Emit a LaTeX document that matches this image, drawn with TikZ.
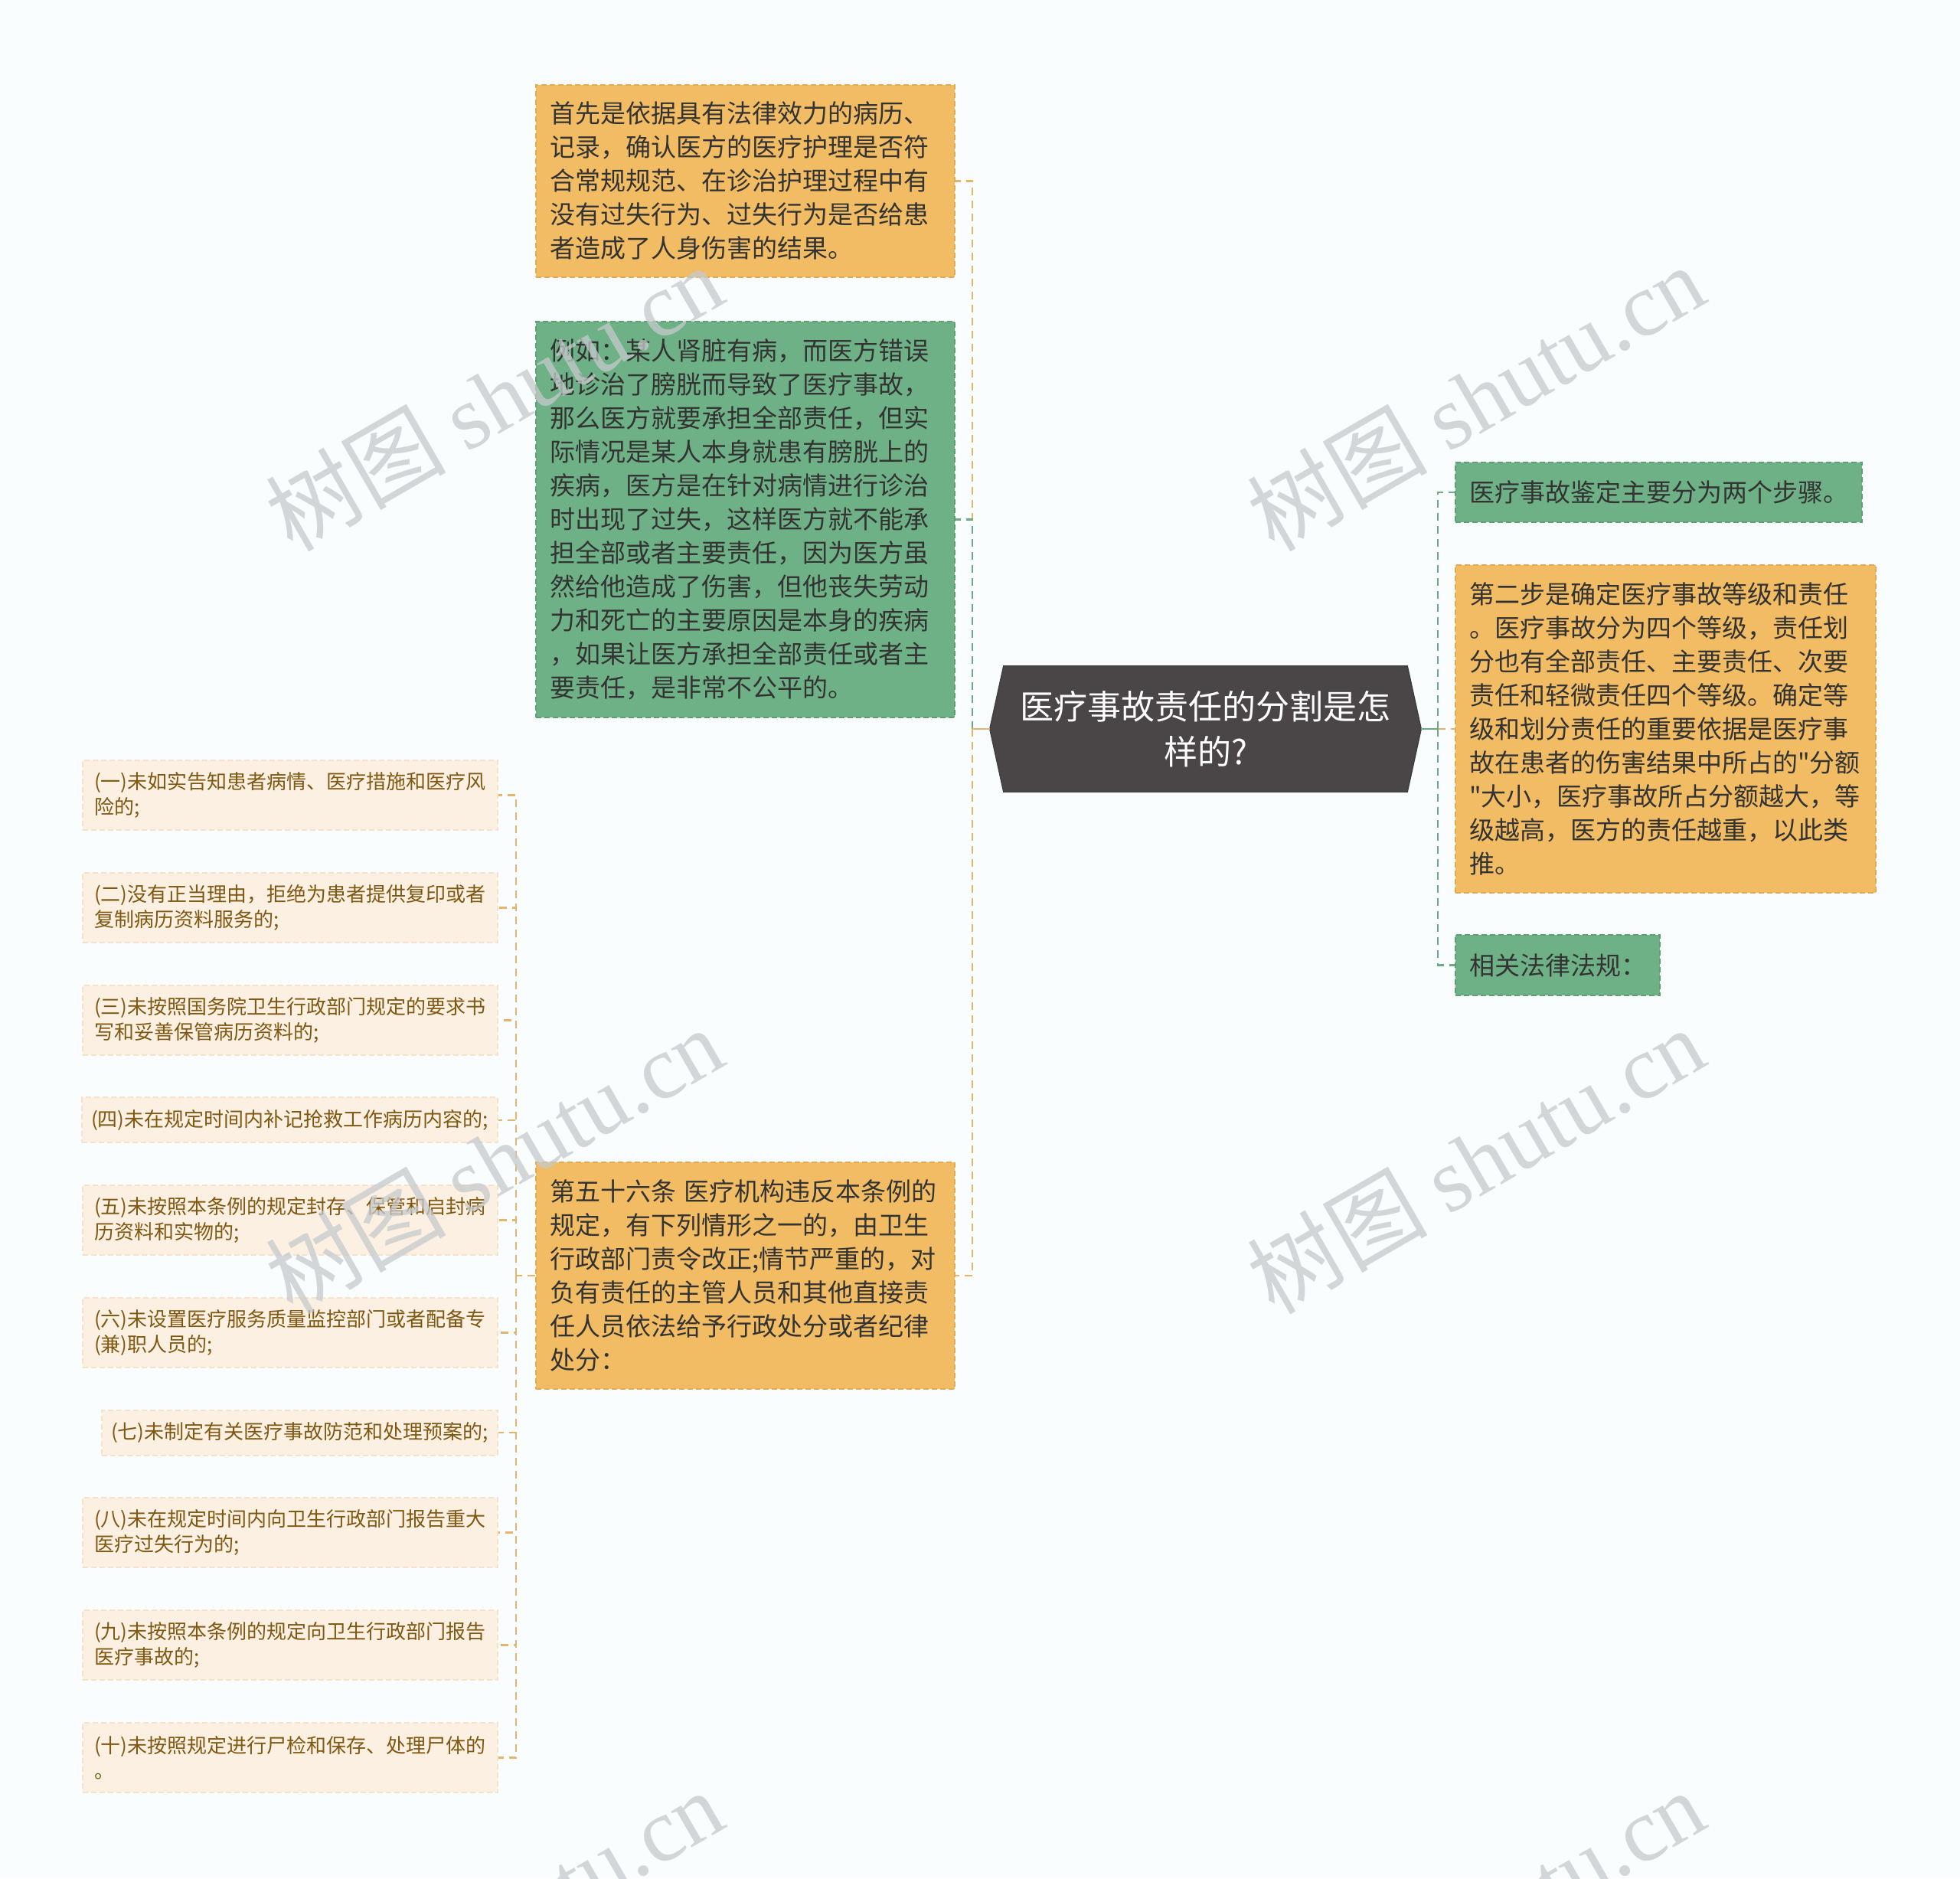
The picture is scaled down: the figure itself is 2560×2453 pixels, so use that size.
\documentclass[tikz,border=0pt]{standalone}
\usepackage{fontspec}
\setmainfont{Noto Sans CJK SC}
\newfontfamily\plaincjk{Noto Sans CJK SC}
\newfontfamily\wmserif{Liberation Serif}
\usetikzlibrary{calc}
\definecolor{bgc}{HTML}{FAFDFD}
\definecolor{orfill}{HTML}{F1BC63}
\definecolor{ordraw}{HTML}{E3AA50}
\definecolor{grfill}{HTML}{6FB186}
\definecolor{grdraw}{HTML}{5E9F74}
\definecolor{lffill}{HTML}{FCF0E2}
\definecolor{lfdraw}{HTML}{F5E2CB}
\definecolor{lftext}{HTML}{7F5812}
\definecolor{maintext}{HTML}{333333}
\definecolor{cfill}{HTML}{4A4546}
\definecolor{orline}{HTML}{E6B46C}
\definecolor{grline}{HTML}{6DA784}
\definecolor{wm}{HTML}{C6CACC}
\pgfdeclarelayer{bg}
\pgfsetlayers{bg,main}
\tikzset{
 box/.style={rectangle, inner xsep=18pt, inner ysep=0pt, align=left, text=maintext, font=\fontsize{33}{44}\selectfont, line width=2pt, dash pattern=on 7pt off 4pt, anchor=west},
 obox/.style={box, fill=orfill, draw=ordraw},
 gbox/.style={box, fill=grfill, draw=grdraw},
 leaf/.style={rectangle, inner xsep=15pt, inner ysep=0pt, align=left, text=lftext, font=\fontsize{26}{33}\selectfont, fill=lffill, draw=lfdraw, line width=2pt, dash pattern=on 7pt off 4pt, anchor=east},
 leaftwo/.style={leaf, text width=512pt, minimum height=91pt},
 leafone/.style={leaf, inner xsep=12pt, minimum height=59pt},
 olink/.style={draw=orline, line width=2.5pt, dash pattern=on 10pt off 7pt},
 glink/.style={draw=grline, line width=2.5pt, dash pattern=on 10pt off 7pt},
 ostub/.style={draw=orline, line width=2.5pt},
 gstub/.style={draw=grline, line width=2.5pt},
 wmark/.style={text=wm, opacity=0.75, rotate=30, font=\fontsize{118}{118}\selectfont},
}
\begin{document}
\begin{tikzpicture}[x=1pt,y=-1pt]
\begin{pgfonlayer}{bg}
\fill[bgc] (0,0) rectangle (2560,2453);
\end{pgfonlayer}
\useasboundingbox (0,0) rectangle (2560,2453);

% central topic
\node[minimum width=563pt, minimum height=164pt, inner sep=0pt, align=center, text=white, font=\fontsize{44}{59}\selectfont] (c) at (1574.5,952) {医疗事故责任的分割是怎\\样的?};
\begin{pgfonlayer}{bg}
\filldraw[fill=cfill, draw=black!75, line width=1.5pt] (c.west) -- ([xshift=18pt]c.north west) -- ([xshift=-18pt]c.north east) -- (c.east) -- ([xshift=-18pt]c.south east) -- ([xshift=18pt]c.south west) -- cycle;
\end{pgfonlayer}

% left main nodes
\node[obox, text width=511pt, minimum height=251pt] (n1) at (699,236.5) {首先是依据具有法律效力的病历、\\记录，确认医方的医疗护理是否符\\合常规规范、在诊治护理过程中有\\没有过失行为、过失行为是否给患\\者造成了人身伤害的结果。};
\node[gbox, text width=511pt, minimum height=517pt] (n2) at (699,678.5) {例如：某人肾脏有病，而医方错误\\地诊治了膀胱而导致了医疗事故，\\那么医方就要承担全部责任，但实\\际情况是某人本身就患有膀胱上的\\疾病，医方是在针对病情进行诊治\\时出现了过失，这样医方就不能承\\担全部或者主要责任，因为医方虽\\然给他造成了伤害，但他丧失劳动\\力和死亡的主要原因是本身的疾病\\，如果让医方承担全部责任或者主\\要责任，是非常不公平的。};
\node[obox, text width=511pt, minimum height=296pt] (n3) at (699,1666) {第五十六条 医疗机构违反本条例的\\规定，有下列情形之一的，由卫生\\行政部门责令改正;情节严重的，对\\负有责任的主管人员和其他直接责\\任人员依法给予行政处分或者纪律\\处分：};

% right nodes
\node[gbox, minimum height=78pt] (r1) at (1900,643) {医疗事故鉴定主要分为两个步骤。};
\node[obox, text width=513pt, minimum height=428pt] (r2) at (1900,952) {第二步是确定医疗事故等级和责任\\。医疗事故分为四个等级，责任划\\分也有全部责任、主要责任、次要\\责任和轻微责任四个等级。确定等\\级和划分责任的重要依据是医疗事\\故在患者的伤害结果中所占的{\plaincjk"}分额\\{\plaincjk"}大小，医疗事故所占分额越大，等\\级越高，医方的责任越重，以此类\\推。};
\node[gbox, minimum height=79pt] (r3) at (1900,1260.5) {相关法律法规：};

% leaves
\node[leaftwo] (l1) at (651,1038.4) {(一)未如实告知患者病情、医疗措施和医疗风\\险的;};
\node[leaftwo] (l2) at (651,1185.3) {(二)没有正当理由，拒绝为患者提供复印或者\\复制病历资料服务的;};
\node[leaftwo] (l3) at (651,1332.3) {(三)未按照国务院卫生行政部门规定的要求书\\写和妥善保管病历资料的;};
\node[leafone] (l4) at (651,1462.9) {(四)未在规定时间内补记抢救工作病历内容的;};
\node[leaftwo] (l5) at (651,1593.5) {(五)未按照本条例的规定封存、保管和启封病\\历资料和实物的;};
\node[leaftwo] (l6) at (651,1740.5) {(六)未设置医疗服务质量监控部门或者配备专\\(兼)职人员的;};
\node[leafone] (l7) at (651,1871.1) {(七)未制定有关医疗事故防范和处理预案的;};
\node[leaftwo] (l8) at (651,2001.7) {(八)未在规定时间内向卫生行政部门报告重大\\医疗过失行为的;};
\node[leaftwo] (l9) at (651,2148.6) {(九)未按照本条例的规定向卫生行政部门报告\\医疗事故的;};
\node[leaftwo] (l10) at (651,2295.6) {(十)未按照规定进行尸检和保存、处理尸体的\\。};

% junctions
\coordinate (jl) at (1270,952);
\coordinate (jr) at (1878,952);
\coordinate (jk) at (674,1666);

% connectors
\draw[olink] (jl) |- (n1.east);
\draw[olink] (jl) |- (n3.east);
\draw[glink] (jl) |- (n2.east);
\draw[ostub] (c.west) -- (jl);
\draw[olink] (jr) -- (r2.west);
\draw[glink] (jr) |- (r1.west);
\draw[glink] (jr) |- (r3.west);
\draw[gstub] (c.east) -- (jr);
\draw[olink] (n3.west) -- (jk);
\foreach \k in {1,...,10} {\draw[olink] (jk) |- (l\k.east);}

% watermarks
\node[wmark] (w1) at (645,519) {树图 {\wmserif shutu.cn}};
\node[wmark] (w2) at (1927,519) {树图 {\wmserif shutu.cn}};
\node[wmark] (w3) at (645,1515) {树图 {\wmserif shutu.cn}};
\node[wmark] (w4) at (1927,1515) {树图 {\wmserif shutu.cn}};
\node[wmark] (w5) at (645,2511) {树图 {\wmserif shutu.cn}};
\node[wmark] (w6) at (1927,2511) {树图 {\wmserif shutu.cn}};
\end{tikzpicture}
\end{document}
